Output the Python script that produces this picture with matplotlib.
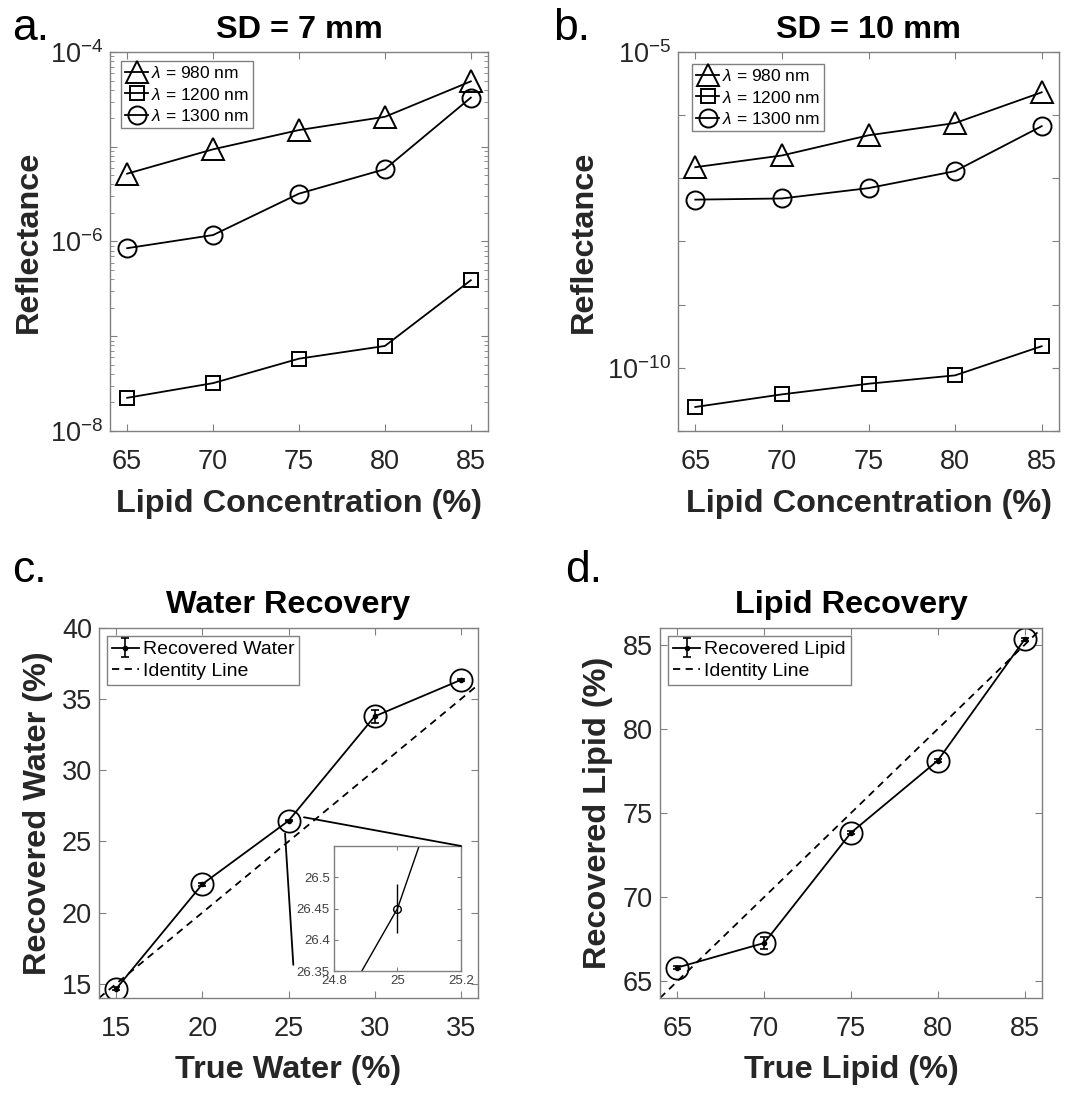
import numpy as np
import matplotlib
matplotlib.use('Agg')
import matplotlib.pyplot as plt
from matplotlib.ticker import FixedLocator, FuncFormatter, LogLocator, NullFormatter, NullLocator
from matplotlib.patches import ConnectionPatch

plt.rcParams['font.family'] = ['Liberation Sans', 'DejaVu Sans']
plt.rcParams['mathtext.fontset'] = 'custom'
plt.rcParams['mathtext.rm'] = 'Liberation Sans'
plt.rcParams['mathtext.it'] = 'Liberation Sans:italic'
plt.rcParams['mathtext.bf'] = 'Liberation Sans:bold'

# ---------------- data ----------------
lipid = [65, 70, 75, 80, 85]
sd7_980 = [5.2e-6, 9.4e-6, 1.5e-5, 2.07e-5, 4.9e-5]
sd7_1200 = [2.24e-8, 3.2e-8, 5.8e-8, 7.9e-8, 3.9e-7]
sd7_1300 = [8.5e-7, 1.17e-6, 3.2e-6, 5.8e-6, 3.3e-5]
sd10_980 = [1.5e-7, 2.3e-7, 4.8e-7, 7.5e-7, 2.3e-6]
sd10_1200 = [2.4e-11, 3.8e-11, 5.6e-11, 7.6e-11, 2.2e-10]
sd10_1300 = [4.6e-8, 4.8e-8, 7.0e-8, 1.3e-7, 6.7e-7]
wl_labels = [r'$\lambda$ = 980 nm', r'$\lambda$ = 1200 nm', r'$\lambda$ = 1300 nm']

true_water = [15, 20, 25, 30, 35]
rec_water = [14.65, 22.0, 26.45, 33.79, 36.35]
rec_water_err = [0.1, 0.1, 0.039, 0.45, 0.1]
true_lipid = [65, 70, 75, 80, 85]
rec_lipid = [65.81, 67.27, 73.83, 78.12, 85.32]
rec_lipid_err = [0.1, 0.37, 0.1, 0.1, 0.1]

W, H = 1077, 1112
fig = plt.figure(figsize=(W / 100, H / 100), dpi=100)

TXT = '#262626'
SPINE = '#808080'
BIG = 23.4


def ax_px(l, t, r, b):
    return fig.add_axes([l / W, 1 - b / H, (r - l) / W, (b - t) / H])


def style(ax, labelsize=19.5, xpad=13, ypad=5, length=5):
    for s in ax.spines.values():
        s.set_color(SPINE)
        s.set_linewidth(1.0)
    ax.tick_params(which='both', direction='in', top=True, right=True,
                   color=SPINE, labelcolor=TXT, labelsize=labelsize)
    ax.tick_params(which='major', length=length, width=0.8)
    ax.tick_params(which='minor', length=length * 0.6, width=0.6)
    ax.tick_params(axis='x', pad=xpad)
    ax.tick_params(axis='y', pad=ypad)


def log_fmt(labeled):
    def f(v, p):
        e = int(round(np.log10(v)))
        if e in labeled:
            return r'$\mathregular{10^{%d}}$' % e
        return ''
    return FuncFormatter(f)


def reflect_panel(ax, s980, s1200, s1300, ylim, labeled, minor, leg_anchor, title, ylab_x):
    ax.set_yscale('log')
    ax.plot(lipid, s980, '-^', color='k', ms=16, mfc='none', mew=1.4, lw=1.3, label=wl_labels[0])
    ax.plot(lipid, s1200, '-s', color='k', ms=10.5, mfc='none', mew=1.4, lw=1.3, label=wl_labels[1])
    ax.plot(lipid, s1300, '-o', color='k', ms=13, mfc='none', mew=1.4, lw=1.3, label=wl_labels[2])
    ax.set_xlim(64, 86)
    ax.set_ylim(*ylim)
    ax.set_xticks(lipid)
    e0, e1 = int(np.log10(ylim[0])), int(np.log10(ylim[1]))
    ax.yaxis.set_major_locator(FixedLocator([10.0 ** e for e in range(e0, e1 + 1)]))
    ax.yaxis.set_major_formatter(log_fmt(labeled))
    if minor:
        ax.yaxis.set_minor_locator(LogLocator(base=10, subs=np.arange(2, 10), numticks=50))
    else:
        ax.yaxis.set_minor_locator(NullLocator())
    ax.yaxis.set_minor_formatter(NullFormatter())
    style(ax)
    ax.set_title(title, fontsize=BIG, fontweight='bold', pad=10, color='k')
    ax.set_xlabel('Lipid Concentration (%)', fontsize=BIG, fontweight='bold', color=TXT)
    ax.set_ylabel('Reflectance', fontsize=BIG, fontweight='bold', color=TXT)
    ax.xaxis.set_label_coords(0.5, -0.152)
    ax.yaxis.set_label_coords(ylab_x, 0.5)
    leg = ax.legend(loc='upper left', bbox_to_anchor=leg_anchor, borderaxespad=0,
                    fontsize=12.5, handlelength=1.3, handletextpad=0.15, labelspacing=0.3,
                    borderpad=0.25, fancybox=False, edgecolor=SPINE, framealpha=1)
    leg.get_frame().set_linewidth(1.0)


# ---------------- panel a ----------------
ax_a = ax_px(110, 52, 488, 431)
reflect_panel(ax_a, sd7_980, sd7_1200, sd7_1300, (1e-8, 1e-4), {-8, -6, -4}, True,
              (11 / 378, 1 - 9 / 379), 'SD = 7 mm', -0.175)

# ---------------- panel b ----------------
ax_b = ax_px(678, 52, 1059, 431)
reflect_panel(ax_b, sd10_980, sd10_1200, sd10_1300, (1e-11, 1e-5), {-10, -5}, False,
              (14 / 381, 1 - 12 / 379), 'SD = 10 mm', -0.207)


def recovery_panel(ax, xt, yr, err, lim, name, title, xlab, ylab):
    eb = ax.errorbar(xt, yr, yerr=err, fmt='.-', color='k', ms=6, lw=1.3, capsize=3,
                     elinewidth=1.2, capthick=1.2, label='Recovered ' + name)
    ax.plot(xt, yr, 'o', ms=16, mfc='none', mec='k', mew=1.3)
    idl, = ax.plot(lim, lim, '--', color='k', dashes=(4, 3), lw=1.3, label='Identity Line')
    ax.set_xlim(*lim)
    ax.set_ylim(*lim)
    style(ax)
    ax.set_title(title, fontsize=BIG, fontweight='bold', pad=11, color='k')
    ax.set_xlabel(xlab, fontsize=BIG, fontweight='bold', color=TXT)
    ax.set_ylabel(ylab, fontsize=BIG, fontweight='bold', color=TXT)
    ax.xaxis.set_label_coords(0.5, -0.155)
    ax.yaxis.set_label_coords(-0.122, 0.5)
    leg = ax.legend(handles=[eb, idl], loc='upper left', bbox_to_anchor=(8 / 380, 1 - 8 / 370),
                    borderaxespad=0, fontsize=14, handlelength=1.4, handletextpad=0.2,
                    labelspacing=0.2, borderpad=0.25, fancybox=False, edgecolor=SPINE,
                    framealpha=1)
    leg.get_frame().set_linewidth(1.0)


# ---------------- panel c ----------------
ax_c = ax_px(99, 628, 478, 998)
recovery_panel(ax_c, true_water, rec_water, rec_water_err, [14, 36], 'Water',
               'Water Recovery', 'True Water (%)', 'Recovered Water (%)')
ax_c.set_xticks([15, 20, 25, 30, 35])
ax_c.set_yticks([15, 20, 25, 30, 35, 40])
ax_c.set_ylim(14, 40)

# inset
ax_i = ax_px(334, 846, 461, 971)
ax_i.errorbar(true_water, rec_water, yerr=rec_water_err, fmt='-', color='k', lw=1.0,
              elinewidth=1.0, capsize=0)
ax_i.plot(true_water, rec_water, 'o', ms=5.5, mfc='none', mec='k', mew=1.0)
ax_i.set_xlim(24.8, 25.2)
ax_i.set_ylim(26.35, 26.55)
ax_i.set_xticks([24.8, 25, 25.2])
ax_i.set_yticks([26.35, 26.4, 26.45, 26.5])
fmt_g = FuncFormatter(lambda v, p: '%g' % round(v, 4))
ax_i.xaxis.set_major_formatter(fmt_g)
ax_i.yaxis.set_major_formatter(fmt_g)
style(ax_i, labelsize=9.5, xpad=3, ypad=3, length=3)
ax_i.tick_params(labelcolor='#404040')

# zoom connector lines
for xyA, xyB, cB in [((25.9, 26.7), (1, 1), ax_i.transAxes),
                     ((24.8, 25.55), (25.28, 16.33), ax_c.transData)]:
    cp = ConnectionPatch(xyA=xyA, coordsA=ax_c.transData, xyB=xyB, coordsB=cB,
                         color='k', lw=1.3)
    fig.add_artist(cp)

# ---------------- panel d ----------------
ax_d = ax_px(660, 628, 1042, 998)
recovery_panel(ax_d, true_lipid, rec_lipid, rec_lipid_err, [64, 86], 'Lipid',
               'Lipid Recovery', 'True Lipid (%)', 'Recovered Lipid (%)')
ax_d.set_xticks([65, 70, 75, 80, 85])
ax_d.set_yticks([65, 70, 75, 80, 85])

# panel letters
for x, y, s in [(12, 40, 'a.'), (553, 40, 'b.'), (12, 582, 'c.'), (565, 582, 'd.')]:
    fig.text(x / W, 1 - y / H, s, fontsize=32, va='baseline', ha='left', color='k')

fig.savefig('out.png', dpi=100)
